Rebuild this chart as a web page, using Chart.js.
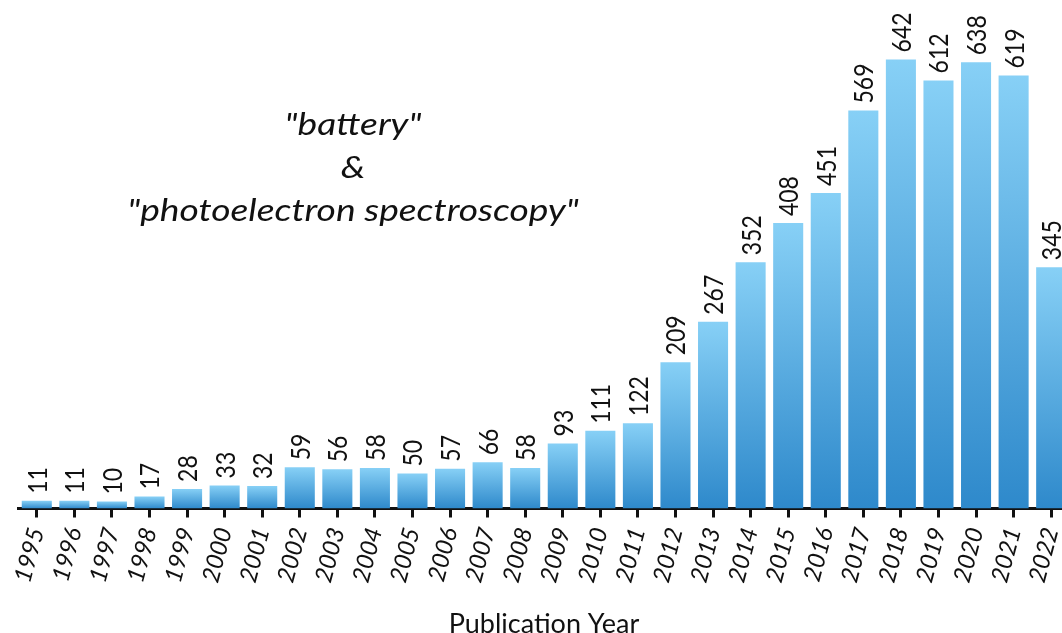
<!DOCTYPE html>
<html>
<head>
<meta charset="utf-8">
<script src="https://cdn.jsdelivr.net/npm/chart.js@4"></script>
<style>
  html, body { margin: 0; padding: 0; background: #fff; overflow: hidden; }
  #frame { position: relative; width: 1062px; height: 633px; overflow: hidden; background: #fff; }
  #wrap { position: absolute; left: 0; top: 0; width: 1086px; height: 640px; }
  #note {
    position: absolute; left: 103px; top: 102px; width: 500px;
    text-align: center; font-family: Lato, sans-serif; font-style: italic;
    font-size: 31px; line-height: 43px; color: #111; white-space: nowrap;
    transform: scaleX(1.2); transform-origin: 250px 0;
  }
</style>
</head>
<body>
<div id="frame">
  <div id="wrap"><canvas id="c" width="1086" height="640"></canvas></div>
  <div id="note">"battery"<br>&amp;<br>"photoelectron spectroscopy"</div>
</div>
<script>
const years = ['1995','1996','1997','1998','1999','2000','2001','2002','2003','2004','2005','2006','2007','2008','2009','2010','2011','2012','2013','2014','2015','2016','2017','2018','2019','2020','2021','2022'];
const counts = [11,11,10,17,28,33,32,59,56,58,50,57,66,58,93,111,122,209,267,352,408,451,569,642,612,638,619,345];
const axisTitle = 'Publication Year';

const topColor = '#87d0f6';
const bottomColor = '#2e89cb';

const valueLabels = {
  id: 'valueLabels',
  afterDatasetsDraw(chart) {
    const ctx = chart.ctx;
    const meta = chart.getDatasetMeta(0);
    ctx.save();
    ctx.font = '23px Lato, sans-serif';
    ctx.fillStyle = '#111';
    ctx.textAlign = 'left';
    ctx.textBaseline = 'middle';
    meta.data.forEach((bar, i) => {
      ctx.save();
      ctx.translate(bar.x + 1, bar.y - 7);
      ctx.rotate(-Math.PI / 2);
      ctx.scale(1, 1.2);
      ctx.fillText(String(counts[i]), 0, 0);
      ctx.restore();
    });
    ctx.restore();
  }
};

new Chart(document.getElementById('c'), {
  type: 'bar',
  data: {
    labels: years,
    datasets: [{
      data: counts,
      backgroundColor: (c) => {
        const chart = c.chart;
        if (!chart.chartArea || c.type !== 'data') return topColor;
        const y = chart.scales.y;
        const top = y.getPixelForValue(c.raw);
        const bottom = y.getPixelForValue(0);
        if (!isFinite(top) || !isFinite(bottom) || top === bottom) return topColor;
        const g = chart.ctx.createLinearGradient(0, top, 0, bottom);
        g.addColorStop(0, topColor);
        g.addColorStop(1, bottomColor);
        return g;
      },
      borderWidth: 0,
      barPercentage: 0.8,
      categoryPercentage: 1.0
    }]
  },
  options: {
    responsive: false,
    animation: false,
    devicePixelRatio: 1,
    layout: { padding: { left: 18, right: 0, top: 0, bottom: 0 } },
    plugins: { legend: { display: false }, tooltip: { enabled: false } },
    scales: {
      y: { display: false, min: 0, max: 727 },
      x: {
        afterFit: (s) => { s.height = 131.5; },
        border: { display: true, color: '#111', width: 3 },
        grid: { display: true, offset: false, drawOnChartArea: false, drawTicks: true, tickLength: 9, tickWidth: 3, tickColor: '#111' },
        ticks: {
          color: '#111', minRotation: 75, maxRotation: 75, autoSkip: false, padding: 7,
          font: { family: 'Lato, sans-serif', size: 24, style: 'italic' }
        },
        title: {
          display: true, text: axisTitle, color: '#111',
          font: { family: 'Lato, sans-serif', size: 27 },
          padding: { top: 0, bottom: 0 }
        }
      }
    }
  },
  plugins: [valueLabels]
});
</script>
</body>
</html>
